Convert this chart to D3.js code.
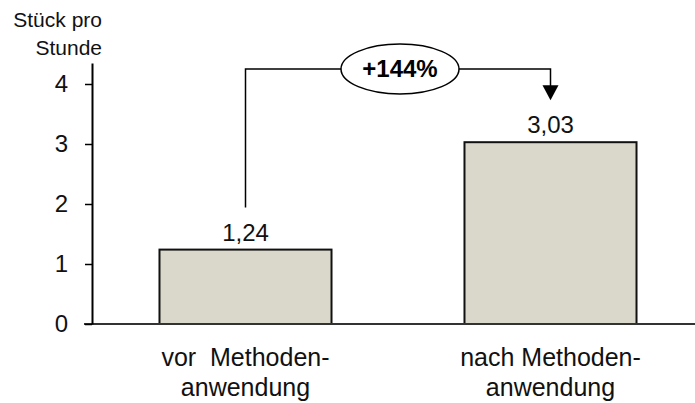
<!DOCTYPE html>
<html>
<head>
<meta charset="utf-8">
<script src="https://cdn.jsdelivr.net/npm/d3@7"></script>
<style>
  html, body { margin: 0; padding: 0; background: #fff; }
  svg { display: block; font-family: Arial, "Liberation Sans", sans-serif; }
</style>
</head>
<body>
<svg id="chart" width="695" height="403"></svg>
<script>
const categories = [["vor  Methoden-", "anwendung"], ["nach Methoden-", "anwendung"]];
const values = [1.24, 3.03];
const valueLabels = ["1,24", "3,03"];
const tickValues = [0, 1, 2, 3, 4];
const axisTitle = ["Stück pro", "Stunde"];
const changeLabel = "+144%";

const svg = d3.select("#chart");
const W = 695, H = 403;

const y = d3.scaleLinear().domain([0, 4.35]).range([324, 63]);
const x = d3.scaleBand().domain(d3.range(values.length))
  .range([93, 703]).paddingInner(0.436).paddingOuter(0.218);

// bars
svg.append("g").selectAll("rect").data(values).join("rect")
  .attr("x", (d, i) => x(i))
  .attr("y", d => y(d))
  .attr("width", x.bandwidth())
  .attr("height", d => y(0) - y(d))
  .attr("fill", "#d9d8cb")
  .attr("stroke", "#111")
  .attr("stroke-width", 2);

// value labels
svg.append("g").selectAll("text").data(values).join("text")
  .attr("x", (d, i) => x(i) + x.bandwidth() / 2)
  .attr("y", d => y(d) - 9)
  .attr("text-anchor", "middle")
  .attr("font-size", 24)
  .attr("fill", "#111")
  .text((d, i) => valueLabels[i]);

// baseline
svg.append("line")
  .attr("x1", 84).attr("x2", W)
  .attr("y1", y(0)).attr("y2", y(0))
  .attr("stroke", "#333").attr("stroke-width", 2);

// y axis
const yAxis = d3.axisLeft(y).tickValues(tickValues).tickSize(7).tickSizeOuter(0).tickPadding(17)
  .tickFormat(d3.format("d"));
const gy = svg.append("g").attr("transform", "translate(92,0)").call(yAxis);
gy.select(".domain").attr("stroke", "#000").attr("stroke-width", 2);
gy.selectAll(".tick line").attr("stroke", "#000").attr("stroke-width", 1.5);
gy.selectAll(".tick text").attr("font-size", 24).attr("fill", "#111")
  .attr("font-family", "Arial, 'Liberation Sans', sans-serif");

// axis title
svg.append("text")
  .attr("text-anchor", "end")
  .attr("font-size", 21)
  .attr("fill", "#111")
  .selectAll("tspan").data(axisTitle).join("tspan")
  .attr("x", 102)
  .attr("y", (d, i) => 27 + i * 28)
  .text(d => d);

// category labels
const cat = svg.append("g").selectAll("text").data(categories).join("text")
  .attr("text-anchor", "middle")
  .attr("font-size", 25)
  .attr("fill", "#111")
  .style("white-space", "pre");
cat.selectAll("tspan").data((d, i) => d.map(t => ({t, i}))).join("tspan")
  .attr("x", d => x(d.i) + x.bandwidth() / 2)
  .attr("y", (d, j) => 366 + j * 30)
  .text(d => d.t);

// connector
const gap = 42;
const levelY = y(4.25);
const x1c = x(0) + x.bandwidth() / 2;
const x2c = x(1) + x.bandwidth() / 2;
const cx = (x1c + x2c) / 2 + 2;
const rx = 59, ry = 25;
const conn = svg.append("g").attr("stroke", "#000").attr("stroke-width", 1.5).attr("fill", "none");
conn.append("path")
  .attr("d", `M${x1c},${y(values[0]) - gap}V${levelY}H${cx - rx}`);
conn.append("path")
  .attr("d", `M${cx + rx},${levelY}H${x2c}V${y(values[1]) - gap - 14}`);
svg.append("path")
  .attr("d", `M${x2c - 8},${y(values[1]) - gap - 15}L${x2c + 8},${y(values[1]) - gap - 15}L${x2c},${y(values[1]) - gap}Z`)
  .attr("fill", "#000");
svg.append("ellipse")
  .attr("cx", cx).attr("cy", levelY).attr("rx", rx).attr("ry", ry)
  .attr("fill", "#fff").attr("stroke", "#000").attr("stroke-width", 1.5);
svg.append("text")
  .attr("x", cx).attr("y", levelY + 8)
  .attr("text-anchor", "middle")
  .attr("font-size", 24).attr("font-weight", "bold")
  .attr("fill", "#000")
  .text(changeLabel);
</script>
</body>
</html>
